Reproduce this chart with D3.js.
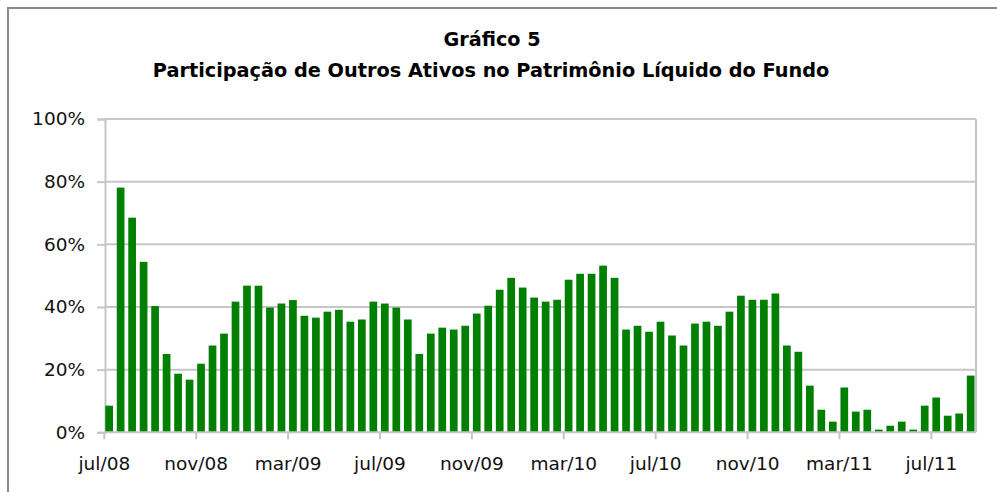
<!DOCTYPE html>
<html>
<head>
<meta charset="utf-8">
<script src="https://cdn.jsdelivr.net/npm/d3@7"></script>
<style>
  body { margin: 0; background: #fff; }
  svg { display: block; font-family: "DejaVu Sans", Verdana, sans-serif; }
</style>
</head>
<body>
<svg id="chart" width="997" height="492"></svg>
<script>
// semi-monthly shares (%), jul/08 .. oct/11
const values = [8.5, 78.1, 68.5, 54.4, 40.3, 25.0, 18.7, 16.8, 21.9, 27.7,
  31.5, 41.7, 46.8, 46.8, 39.8, 41.1, 42.2, 37.2, 36.6, 38.5,
  39.1, 35.3, 36.0, 41.7, 41.1, 39.8, 36.0, 25.0, 31.5, 33.4,
  32.8, 34.0, 37.9, 40.4, 45.5, 49.3, 46.2, 43.0, 41.7, 42.3,
  48.7, 50.6, 50.6, 53.2, 49.3, 32.8, 34.0, 32.1, 35.3, 30.9,
  27.7, 34.7, 35.3, 34.0, 38.5, 43.6, 42.3, 42.3, 44.3, 27.7,
  25.7, 14.9, 7.2, 3.4, 14.3, 6.6, 7.2, 0.85, 2.1, 3.4,
  0.85, 8.5, 11.1, 5.3, 6.0, 18.1]
const tickLabels = ["jul/08", "nov/08", "mar/09", "jul/09", "nov/09",
  "mar/10", "jul/10", "nov/10", "mar/11", "jul/11"]
const tickEvery = 8
const yTicks = [0, 20, 40, 60, 80, 100]

const svg = d3.select("#chart")
const plot = {left: 105, right: 976, top: 119, bottom: 432.3}

// chart frame (cut off at the right and bottom)
svg.append("rect")
  .attr("x", 8).attr("y", 8).attr("width", 1000).attr("height", 500)
  .attr("fill", "none").attr("stroke", "#8a8a8a").attr("stroke-width", 2)

// titles
svg.append("text").attr("x", 492).attr("y", 46)
  .attr("text-anchor", "middle").attr("font-weight", "bold").attr("font-size", 19.2)
  .text("Gráfico 5")
svg.append("text").attr("x", 491).attr("y", 77)
  .attr("text-anchor", "middle").attr("font-weight", "bold").attr("font-size", 19.3)
  .text("Participação de Outros Ativos no Patrimônio Líquido do Fundo")

var x = d3.scaleBand()
  .domain(d3.range(values.length))
  .range([plot.left - 1.6, plot.right + 0.4])
  .paddingInner(0.33)
  .paddingOuter(0.165)

var y = d3.scaleLinear().domain([0, 100]).range([plot.bottom, plot.top])

// gridlines
svg.append("g")
  .selectAll("line")
  .data(yTicks.slice(1))
  .enter().append("line")
    .attr("x1", plot.left).attr("x2", plot.right)
    .attr("y1", d => y(d)).attr("y2", d => y(d))
    .attr("stroke", "#c6c6c6").attr("stroke-width", 2)

// right border of plot area
svg.append("line")
  .attr("x1", plot.right).attr("x2", plot.right).attr("y1", plot.top).attr("y2", plot.bottom)
  .attr("stroke", "#c6c6c6").attr("stroke-width", 2)

// Y axis
var yAxis = svg.append("g")
  .attr("transform", "translate(" + plot.left + ",0)")
  .call(d3.axisLeft(y).tickValues(yTicks).tickSize(8).tickPadding(12)
    .tickFormat(d => d + "%"))
yAxis.selectAll("path, line").attr("stroke", "#c6c6c6").attr("stroke-width", 2)
yAxis.selectAll("text").attr("font-size", 18.5).attr("fill", "#111")
  .attr("font-family", "DejaVu Sans")

// bars
svg.append("g")
  .selectAll("rect")
  .data(values)
  .enter().append("rect")
    .attr("x", (d, i) => x(i))
    .attr("y", d => y(d))
    .attr("width", x.bandwidth())
    .attr("height", d => plot.bottom - y(d))
    .attr("fill", "#007f00")

// X axis
var tickIdx = tickLabels.map((t, i) => i * tickEvery)
var xAxisG = svg.append("g")
svg.append("line")
  .attr("x1", plot.left).attr("x2", plot.right).attr("y1", plot.bottom).attr("y2", plot.bottom)
  .attr("stroke", "#c6c6c6").attr("stroke-width", 2)
xAxisG.selectAll("line")
  .data(tickIdx)
  .enter().append("line")
    .attr("x1", d => x(d) - 1).attr("x2", d => x(d) - 1)
    .attr("y1", plot.bottom).attr("y2", plot.bottom + 7)
    .attr("stroke", "#c6c6c6").attr("stroke-width", 2)
xAxisG.selectAll("text")
  .data(tickIdx)
  .enter().append("text")
    .attr("x", d => x(d) - 1)
    .attr("y", 470)
    .attr("text-anchor", "middle")
    .attr("font-size", 18.5)
    .attr("fill", "#111")
    .text((d, i) => tickLabels[i])
</script>
</body>
</html>
